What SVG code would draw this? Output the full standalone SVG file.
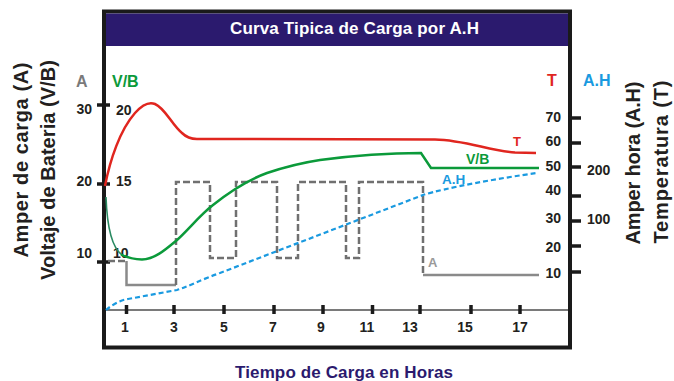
<svg xmlns="http://www.w3.org/2000/svg" width="674" height="381" viewBox="0 0 674 381">
<style>
text{font-family:"Liberation Sans",Arial,sans-serif;font-weight:bold}
.num{font-size:14px;fill:#231f20}
.tick{stroke:#1a1a1a;stroke-width:3.5}
.ttl{font-size:20px;fill:#231f20}
</style>
<rect width="674" height="381" fill="#fff"/>
<g id="frame">
<rect x="104" y="11.5" width="466" height="336" fill="#fff" stroke="#1a1a1a" stroke-width="4"/>
<rect x="106" y="13.5" width="462" height="32.5" fill="#2b1a6e"/>
<text x="230" y="34" font-size="17" fill="#fff" textLength="249">Curva Tipica de Carga por A.H</text>
</g>
<g id="x-axis">
<line x1="106" y1="310" x2="568" y2="310" stroke="#7a7a7a" stroke-width="1.8"/>
<g class="tick">
<line x1="126.5" y1="305" x2="126.5" y2="314"/><line x1="174" y1="305" x2="174" y2="314"/><line x1="224" y1="305" x2="224" y2="314"/><line x1="274" y1="305" x2="274" y2="314"/><line x1="323" y1="305" x2="323" y2="314"/><line x1="372.5" y1="305" x2="372.5" y2="314"/><line x1="420" y1="305" x2="420" y2="314"/><line x1="471" y1="305" x2="471" y2="314"/><line x1="520" y1="305" x2="520" y2="314"/>
</g>
<g class="num" text-anchor="middle">
<text x="125" y="332">1</text><text x="174" y="332">3</text><text x="224" y="332">5</text><text x="273" y="332">7</text><text x="321" y="332">9</text><text x="367" y="332">11</text><text x="410" y="332">13</text><text x="465" y="332">15</text><text x="520" y="332">17</text>
</g>
<text x="344" y="378" font-size="17" fill="#2b1a6e" text-anchor="middle" textLength="218">Tiempo de Carga en Horas</text>
</g>
<g id="left-axis">
<g class="tick"><line x1="97" y1="105" x2="110" y2="105"/><line x1="97" y1="184" x2="110" y2="184"/><line x1="97" y1="262" x2="110" y2="262"/></g>
<g class="num" text-anchor="end"><text x="92" y="114">30</text><text x="92" y="186">20</text><text x="92" y="258">10</text></g>
<g class="num"><text x="116" y="115">20</text><text x="116" y="186">15</text><text x="113" y="258">10</text></g>
<text x="76" y="87" font-size="16" fill="#7a7a7a">A</text>
<text x="112" y="87" font-size="16" fill="#0b9a3a">V/B</text>
<text class="ttl" transform="translate(28,160) rotate(-90)" text-anchor="middle" textLength="195">Amper de carga (A)</text>
<text class="ttl" transform="translate(55,170) rotate(-90)" text-anchor="middle" textLength="220">Voltaje de Bateria (V/B)</text>
</g>
<g id="right-axis">
<g class="tick"><line x1="568" y1="118" x2="581" y2="118"/><line x1="568" y1="143" x2="581" y2="143"/><line x1="568" y1="167" x2="581" y2="167"/><line x1="568" y1="196" x2="581" y2="196"/><line x1="568" y1="221" x2="581" y2="221"/><line x1="568" y1="246" x2="581" y2="246"/><line x1="568" y1="272" x2="581" y2="272"/></g>
<g class="num" text-anchor="end"><text x="561" y="122">70</text><text x="561" y="146">60</text><text x="561" y="171">50</text><text x="561" y="195">40</text><text x="561" y="223">30</text><text x="561" y="252">20</text><text x="561" y="278">10</text></g>
<g class="num"><text x="587" y="175">200</text><text x="587" y="224">100</text></g>
<text x="547" y="86" font-size="16" fill="#e0261f">T</text>
<text x="583" y="86" font-size="16" fill="#1a9ae0">A.H</text>
<text class="ttl" transform="translate(640,163) rotate(-90)" text-anchor="middle" textLength="163">Amper hora (A.H)</text>
<text class="ttl" transform="translate(668,162) rotate(-90)" text-anchor="middle" textLength="163">Temperatura (T)</text>
</g>
<g id="curves" fill="none">
<g id="curve-A" stroke-width="2.5">
<path d="M108,261 H126" stroke="#707070" stroke-dasharray="7,3"/>
<path d="M126.5,261 V285 H176" stroke="#8a8a8a"/>
<path d="M176,285 V182 H210 V258 H236 V182 H277 V258 H298 V182 H346 V258 H359 V182 H423 V275" stroke="#707070" stroke-dasharray="7,3"/>
<path d="M423,275 H539" stroke="#8a8a8a"/>
<text x="428" y="267" font-size="13" fill="#9a9a9a" stroke="none">A</text>
</g>
<g id="curve-AH">
<path d="M106,310 C112,305 120,300 128,299 L177,290 C190,286 200,280 220,273 L423,195 C445,188 500,178 537,173" stroke="#1a9ae0" stroke-width="2.2" stroke-dasharray="5,3"/>
<text x="442" y="184" font-size="13.5" fill="#1a9ae0">A.H</text>
</g>
<g id="curve-VB">
<path d="M106,197 C107,225 111,247 122,255" stroke="#2a8a62" stroke-width="1.6"/>
<path d="M121,254.5 C128,258 134,259.5 142,259.5 C155,259 165,250 177,240 C190,228 200,215 213,205 C228,193 245,181 267,173 C285,167 300,163 320,160 C350,156 390,153 421,153 L431,168 L539,168" stroke="#0b9a3a" stroke-width="2.5"/>
<text x="466" y="164" font-size="14" fill="#0b9a3a">V/B</text>
</g>
<g id="curve-T">
<path d="M105,186 C110,160 120,130 135,113 C143,104 150,102 155,104 C165,108 172,125 182,133 C186,137 190,139 197,139 L435,139.5 C465,140 490,151 515,152.5 L536,153" stroke="#e0261f" stroke-width="2.5"/>
<text x="513" y="146" font-size="13" fill="#e0261f">T</text>
</g>
</g>
</svg>
